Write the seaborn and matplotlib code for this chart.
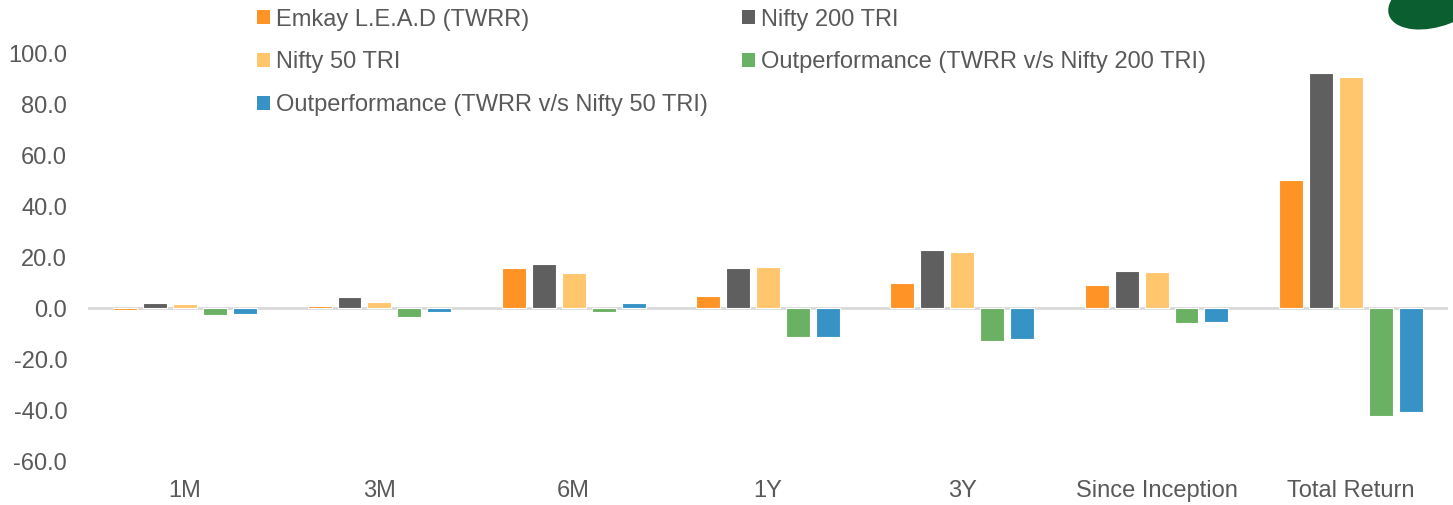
import pandas as pd
import matplotlib
matplotlib.use("Agg")
import matplotlib.pyplot as plt
import seaborn as sns
from matplotlib.patches import Patch, Ellipse

periods = ["1M", "3M", "6M", "1Y", "3Y", "Since Inception", "Total Return"]
series_names = ["Emkay L.E.A.D (TWRR)", "Nifty 200 TRI", "Nifty 50 TRI",
                "Outperformance (TWRR v/s Nifty 200 TRI)",
                "Outperformance (TWRR v/s Nifty 50 TRI)"]
emkay = [-0.5, 1.0, 16.0, 4.9, 10.1, 9.1, 50.4]
nifty200 = [2.0, 4.3, 17.6, 16.0, 23.0, 14.8, 92.7]
nifty50 = [1.9, 2.6, 14.0, 16.2, 22.0, 14.4, 91.1]
out200 = [-2.5, -3.3, -1.6, -11.1, -12.9, -5.7, -42.3]
out50 = [-2.4, -1.6, 2.0, -11.3, -11.9, -5.3, -40.7]
colors = ["#ff9326", "#5f5f5f", "#ffc66e", "#6ab163", "#3793c6"]

rows = []
for name, vals in zip(series_names, [emkay, nifty200, nifty50, out200, out50]):
    for p, v in zip(periods, vals):
        rows.append({"period": p, "series": name, "value": v})
df = pd.DataFrame(rows)

sns.set_style("white")
plt.rcParams["font.family"] = ["Liberation Sans", "DejaVu Sans"]
text_color = "#595959"

fig = plt.figure(figsize=(14.53, 5.05), dpi=100)
ax = fig.add_axes([88 / 1453, 1 - 461 / 505, 1360 / 1453, (461 - 54) / 505])

sns.barplot(data=df, x="period", y="value", hue="series", hue_order=series_names,
            order=periods, palette=colors, saturation=1, width=0.77, gap=0.2,
            edgecolor="white", linewidth=0.8, legend=False, ax=ax)

ax.axhline(0, color="#d9d9d9", linewidth=2, zorder=0.5)
ax.set_ylim(-60, 100)
ax.set_xlim(-0.5, len(periods) - 0.5)
ax.set_yticks(range(-60, 101, 20))
ax.set_yticklabels([f"{t:.1f}" for t in range(-60, 101, 20)])
ax.set_xlabel("")
ax.set_ylabel("")
for s in ax.spines.values():
    s.set_visible(False)
ax.tick_params(axis="both", length=0, labelsize=17, colors=text_color)
ax.tick_params(axis="x", pad=14)
ax.tick_params(axis="y", pad=15)

# legend in row-major order across two columns
order = [0, 2, 4, 1, 3]
handles = [Patch(facecolor=colors[i], edgecolor="none") for i in order]
labels = [series_names[i] for i in order]
fig.legend(handles, labels, ncol=2, loc="upper left",
           bbox_to_anchor=(236 / 1453, 1.025), frameon=False, fontsize=17,
           labelcolor=text_color, handlelength=0.55, handleheight=0.55,
           handletextpad=0.25, labelspacing=0.88, columnspacing=1.45)

# corner logo fragment
fig.patches.append(Ellipse((1436 / 1453, 1.0), 0.06, 0.12, angle=-15,
                           transform=fig.transFigure,
                           facecolor="#0b5e2f", edgecolor="none", zorder=5))

fig.savefig("out.png", dpi=100)
